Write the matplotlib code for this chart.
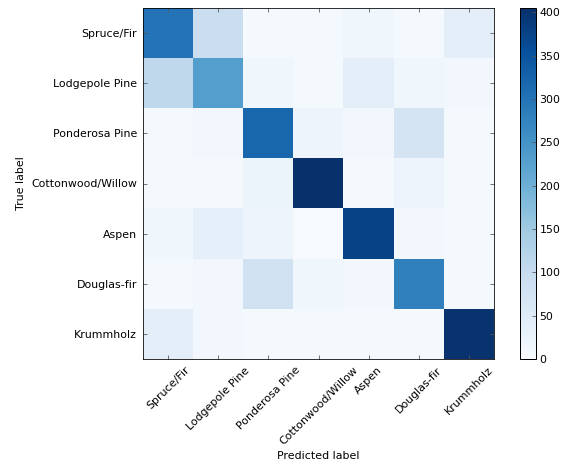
import matplotlib

matplotlib.use("Agg")

import matplotlib.pyplot as plt
import numpy as np

CLASSES = [
    "Spruce/Fir",
    "Lodgepole Pine",
    "Ponderosa Pine",
    "Cottonwood/Willow",
    "Aspen",
    "Douglas-fir",
    "Krummholz",
]

ROW_SPRUCE = [300, 90, 5, 5, 15, 5, 40]
ROW_LODGEPOLE = [110, 230, 15, 5, 40, 15, 10]
ROW_PONDEROSA = [5, 10, 320, 20, 12, 70, 5]
ROW_COTTONWOOD = [5, 5, 25, 405, 5, 20, 5]
ROW_ASPEN = [15, 35, 20, 3, 375, 10, 5]
ROW_DOUGLAS = [5, 10, 80, 15, 10, 280, 5]
ROW_KRUMMHOLZ = [40, 10, 5, 5, 5, 5, 400]

W, H, DPI = 567, 463, 72

cm = np.array([ROW_SPRUCE, ROW_LODGEPOLE, ROW_PONDEROSA, ROW_COTTONWOOD,
               ROW_ASPEN, ROW_DOUGLAS, ROW_KRUMMHOLZ])

plt.rcParams["font.size"] = 11
fig = plt.figure(figsize=(W / DPI, H / DPI), dpi=DPI, facecolor="white")

ax = fig.add_axes([143 / W, 1 - 359 / H, 351 / W, 351 / H])
cax = fig.add_axes([520 / W, 1 - 359 / H, 16 / W, 351 / H])

im = ax.imshow(cm, interpolation="nearest", cmap=plt.cm.Blues, vmin=0, vmax=405)
ticks = np.arange(len(CLASSES))
ax.set_xticks(ticks)
ax.set_xticklabels(CLASSES, rotation=45)
ax.set_yticks(ticks)
ax.set_yticklabels(CLASSES)
ax.tick_params(direction="in", top=True, right=True, length=4, color="#555555", pad=6)
ax.set_xlabel("Predicted label", labelpad=4)
ax.set_ylabel("True label", labelpad=5)

cb = fig.colorbar(im, cax=cax, ticks=np.arange(0, 401, 50))
cb.ax.tick_params(direction="in", length=4, color="#555555")
cb.outline.set_linewidth(1.0)

fig.savefig("out.png", dpi=DPI, facecolor="white")
